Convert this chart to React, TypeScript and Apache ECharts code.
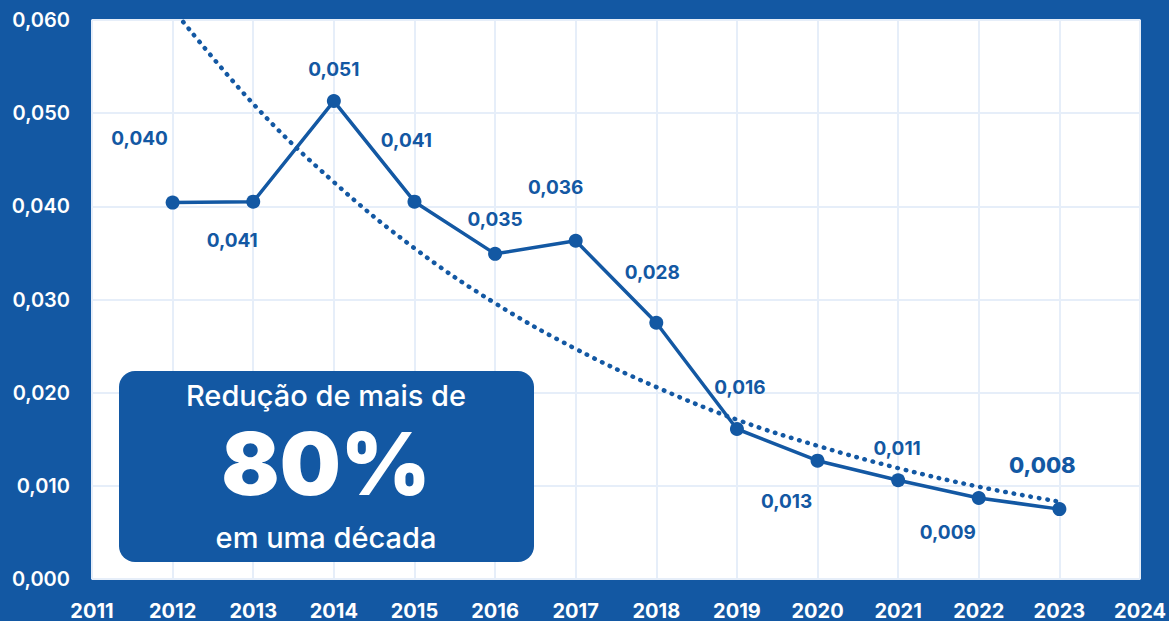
import React, { useEffect, useRef } from "react";
import * as echarts from "echarts";

const years = [2012, 2013, 2014, 2015, 2016, 2017, 2018, 2019, 2020, 2021, 2022, 2023];
const values = [0.0404, 0.0405, 0.0513, 0.0405, 0.0349, 0.0363, 0.0275, 0.0161, 0.0127, 0.0106, 0.0087, 0.0075];
const valueLabels = ["0,040", "0,041", "0,051", "0,041", "0,035", "0,036", "0,028", "0,016", "0,013", "0,011", "0,009", "0,008"];
const trendValues = [0.0612, 0.051, 0.0426, 0.0355, 0.0296, 0.0247, 0.0206, 0.0171, 0.0143, 0.0119, 0.0099, 0.0083];
const boxLines = ["Redução de mais de", "80%", "em uma década"];

const BLUE = "#1358a3";
const FONT = "Inter, 'Noto Sans', sans-serif";

// label placement (style only)
const labelOffsets: [number, number][] = [
  [-33, -64], [-21, 39], [0, -32], [-8, -61], [0, -34], [-20, -53],
  [-4, -50], [3, -42], [-31, 41], [-1, -32], [-31, 35], [-17, -44],
];

export default function App() {
  const ref = useRef<HTMLDivElement>(null);
  useEffect(() => {
    if (!ref.current) return;
    const chart = echarts.init(ref.current, undefined, { renderer: "svg" });
    const last = years.length - 1;
    chart.setOption({
      animation: false,
      backgroundColor: BLUE,
      grid: {
        left: 92,
        right: 29,
        top: 20,
        bottom: 39,
        show: true,
        backgroundColor: "#ffffff",
        borderColor: "#6a9bd8",
        borderWidth: 2,
      },
      xAxis: {
        type: "value",
        min: 2011,
        max: 2024,
        interval: 1,
        axisLine: { show: false },
        axisTick: { show: false },
        axisLabel: {
          color: "#ffffff",
          fontFamily: FONT,
          fontSize: 20,
          fontWeight: 700,
          margin: 22,
          formatter: (v: number) => String(v),
        },
        splitLine: { show: true, lineStyle: { color: "#e6eef9", width: 2 } },
      },
      yAxis: {
        type: "value",
        min: 0,
        max: 0.06,
        interval: 0.01,
        axisLine: { show: false },
        axisTick: { show: false },
        axisLabel: {
          color: "#ffffff",
          fontFamily: FONT,
          fontSize: 20,
          fontWeight: 600,
          margin: 22,
          formatter: (v: number) => v.toFixed(3).replace(".", ","),
        },
        splitLine: { show: true, lineStyle: { color: "#e6eef9", width: 2 } },
      },
      series: [
        {
          type: "line",
          name: "Tendência",
          data: years.map((y, i) => [y, trendValues[i]]),
          smooth: 0.4,
          symbol: "none",
          clip: true,
          lineStyle: { color: BLUE, width: 4.5, type: [0.5, 8], cap: "round" },
          z: 2,
        },
        {
          type: "line",
          name: "Valor",
          data: years.map((y, i) => ({
            value: [y, values[i]],
            label: {
              show: true,
              position: "inside",
              offset: labelOffsets[i],
              formatter: valueLabels[i],
              color: BLUE,
              fontFamily: FONT,
              fontSize: i === last ? 22 : 19,
              fontWeight: i === last ? 800 : 700,
              align: "center",
              verticalAlign: "middle",
            },
          })),
          symbol: "circle",
          symbolSize: 14,
          itemStyle: { color: BLUE },
          lineStyle: { color: BLUE, width: 3.5 },
          z: 3,
        },
      ],
      graphic: [
        {
          type: "rect",
          z: 100,
          shape: { x: 119, y: 371, width: 415, height: 191, r: 16 },
          style: { fill: BLUE },
        },
        {
          type: "text",
          z: 101,
          x: 326,
          y: 395,
          style: {
            text: boxLines[0],
            fill: "#ffffff",
            font: `500 29px ${FONT}`,
            align: "center",
            verticalAlign: "middle",
          },
        },
        {
          type: "text",
          z: 101,
          x: 326,
          y: 464,
          style: {
            text: boxLines[1],
            fill: "#ffffff",
            font: `900 86px ${FONT}`,
            align: "center",
            verticalAlign: "middle",
          },
        },
        {
          type: "text",
          z: 101,
          x: 326,
          y: 537,
          style: {
            text: boxLines[2],
            fill: "#ffffff",
            font: `500 29px ${FONT}`,
            align: "center",
            verticalAlign: "middle",
          },
        },
      ],
    });
    return () => chart.dispose();
  }, []);
  return (
    <div
      ref={ref}
      style={{ position: "fixed", left: 0, top: 0, width: 1169, height: 621 }}
    />
  );
}
